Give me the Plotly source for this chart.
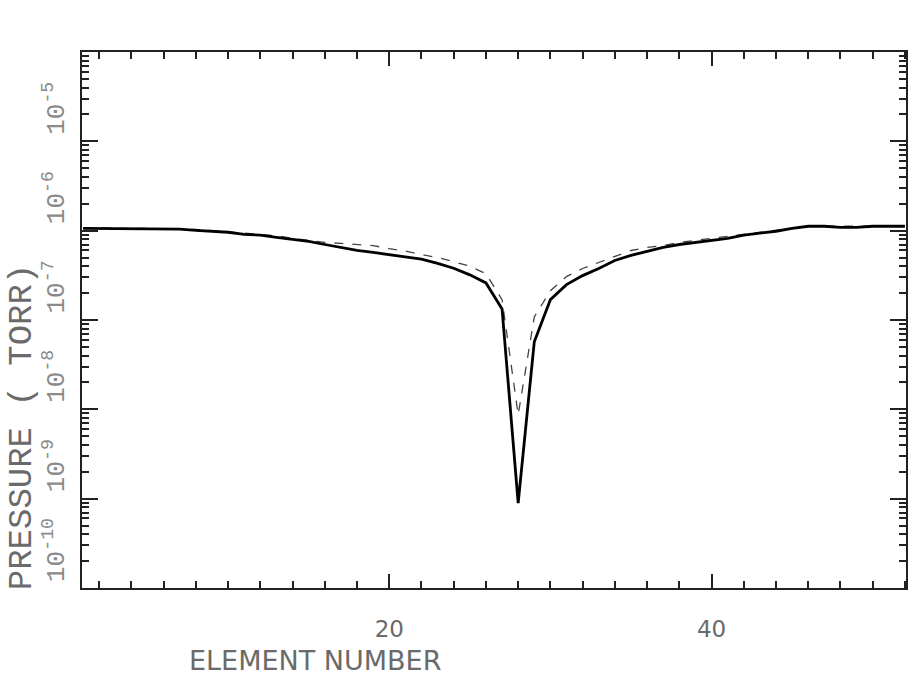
import plotly.graph_objects as go

# Element numbers along the beam line
elements = list(range(1, 53))

# Pressure profile, case A (solid trace), torr
pressure_a = [
    1.06e-6, 1.06e-6, 1.06e-6, 1.06e-6, 1.06e-6, 1.06e-6, 1.04e-6, 1.01e-6, 0.985e-6, 0.96e-6,
    0.91e-6, 0.89e-6, 0.84e-6, 0.80e-6, 0.76e-6, 0.70e-6, 0.65e-6, 0.60e-6, 0.57e-6, 0.54e-6,
    0.51e-6, 0.48e-6, 0.43e-6, 0.38e-6, 0.32e-6, 0.26e-6, 0.133e-6, 0.89e-9, 0.057e-6, 0.169e-6,
    0.249e-6, 0.314e-6, 0.377e-6, 0.464e-6, 0.528e-6, 0.586e-6, 0.65e-6, 0.70e-6, 0.74e-6, 0.78e-6,
    0.82e-6, 0.89e-6, 0.935e-6, 0.985e-6, 1.06e-6, 1.12e-6, 1.12e-6, 1.09e-6, 1.09e-6, 1.12e-6,
    1.12e-6, 1.12e-6,
]

# Pressure profile, case B (dashed trace), torr
pressure_b = [
    1.07e-6, 1.07e-6, 1.07e-6, 1.07e-6, 1.07e-6, 1.07e-6, 1.05e-6, 1.03e-6, 1.00e-6, 0.98e-6,
    0.94e-6, 0.92e-6, 0.88e-6, 0.82e-6, 0.78e-6, 0.74e-6, 0.72e-6, 0.70e-6, 0.68e-6, 0.63e-6,
    0.59e-6, 0.54e-6, 0.50e-6, 0.45e-6, 0.40e-6, 0.33e-6, 0.169e-6, 8.7e-9, 0.108e-6, 0.213e-6,
    0.306e-6, 0.377e-6, 0.44e-6, 0.51e-6, 0.60e-6, 0.65e-6, 0.68e-6, 0.74e-6, 0.78e-6, 0.82e-6,
    0.86e-6, 0.91e-6, 0.96e-6, 1.01e-6, 1.06e-6, 1.12e-6, 1.12e-6, 1.12e-6, 1.12e-6, 1.12e-6,
    1.12e-6, 1.12e-6,
]

# Decade labels on the pressure axis
decade_exponents = [-5, -6, -7, -8, -9, -10]
decade_labels = ["10<sup>-5</sup>", "10<sup>-6</sup>", "10<sup>-7</sup>",
                 "10<sup>-8</sup>", "10<sup>-9</sup>", "10<sup>-10</sup>"]

ink = "#222222"
faded = "#6a6a6a"
plotter_font = "Liberation Mono"

fig = go.Figure()

fig.add_trace(go.Scatter(
    x=elements, y=pressure_b, mode="lines",
    line=dict(color="#444444", width=1.3, dash="dash"),
    showlegend=False,
))
fig.add_trace(go.Scatter(
    x=elements, y=pressure_a, mode="lines",
    line=dict(color="#000000", width=2.8),
    showlegend=False,
))

# Rotated decade labels sitting just above each decade tick
for exp, lab in zip(decade_exponents, decade_labels):
    fig.add_annotation(
        x=0, xref="paper", xanchor="right", xshift=-8,
        y=exp, yref="y", yanchor="bottom", yshift=4,
        text=lab, textangle=-90, showarrow=False,
        font=dict(family=plotter_font, size=26, color="#8a8a8a"),
    )

fig.update_xaxes(
    range=[0.93, 52.07],
    tick0=0, dtick=20,
    ticks="inside", ticklen=14, tickwidth=1.5, tickcolor=ink,
    minor=dict(ticks="inside", dtick=2, ticklen=7, tickcolor=ink, showgrid=False),
    showline=True, linecolor=ink, linewidth=1.5, mirror="allticks",
    showgrid=False, zeroline=False,
    ticklabelstandoff=20,
    tickfont=dict(family="DejaVu Sans", size=23, color=faded),
)

fig.update_yaxes(
    type="log",
    range=[-10, -4],
    dtick=1,
    ticks="inside", ticklen=16, tickwidth=1.5, tickcolor=ink,
    minor=dict(ticks="inside", ticklen=7, tickcolor=ink, showgrid=False),
    showticklabels=False,
    showline=True, linecolor=ink, linewidth=1.5, mirror="allticks",
    showgrid=False, zeroline=False,
)

# Axis titles in wide lettering
fig.add_annotation(
    x=0, xref="paper", xanchor="center", xshift=-60,
    y=0.3, yref="paper", yanchor="middle",
    text="PRESSURE ( TORR)", textangle=-90, showarrow=False,
    font=dict(family=plotter_font, size=34, color=faded),
)
fig.add_annotation(
    x=0.283, xref="paper", xanchor="center",
    y=0, yref="paper", yanchor="middle", yshift=-72,
    text="ELEMENT NUMBER", showarrow=False,
    font=dict(family="DejaVu Sans", size=27, color=faded),
)

fig.update_layout(
    width=913, height=677,
    margin=dict(l=82, r=5, t=52, b=89),
    plot_bgcolor="white", paper_bgcolor="white",
)

fig.write_html("out.html")
